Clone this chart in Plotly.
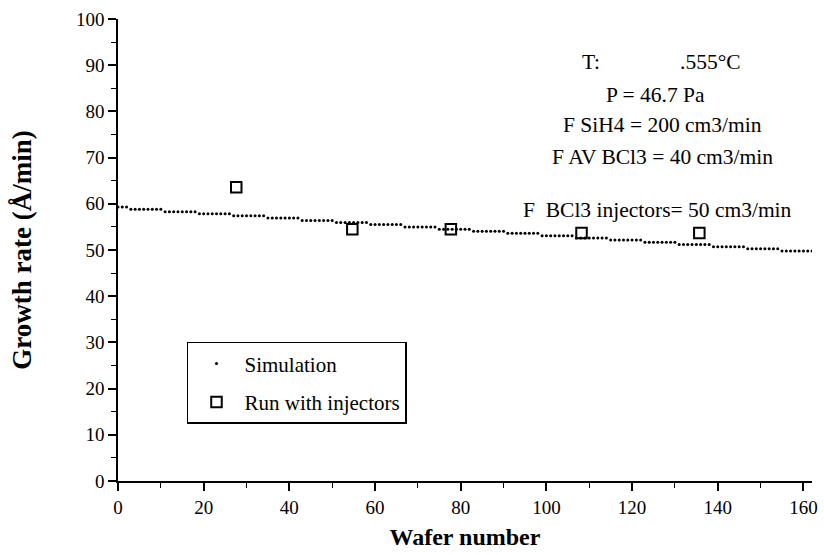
import plotly.graph_objects as go

# Simulation: growth rate per wafer
sim_wafer = list(range(163))
sim_rate = [
    59.3, 59.3, 59.3,
    58.8, 58.8, 58.8, 58.8, 58.8, 58.8, 58.8, 58.8,
    58.3, 58.3, 58.3, 58.3, 58.3, 58.3, 58.3, 58.3,
    57.85, 57.85, 57.85, 57.85, 57.85, 57.85, 57.85, 57.85,
    57.4, 57.4, 57.4, 57.4, 57.4, 57.4, 57.4, 57.4,
    56.9, 56.9, 56.9, 56.9, 56.9, 56.9, 56.9, 56.9,
    56.4, 56.4, 56.4, 56.4, 56.4, 56.4, 56.4, 56.4,
    55.95, 55.95, 55.95, 55.95, 55.95, 55.95, 55.95, 55.95,
    55.5, 55.5, 55.5, 55.5, 55.5, 55.5, 55.5, 55.5,
    55.0, 55.0, 55.0, 55.0, 55.0, 55.0, 55.0, 55.0,
    54.5, 54.5, 54.5, 54.5, 54.5, 54.5, 54.5, 54.5,
    54.05, 54.05, 54.05, 54.05, 54.05, 54.05, 54.05, 54.05,
    53.6, 53.6, 53.6, 53.6, 53.6, 53.6, 53.6, 53.6,
    53.1, 53.1, 53.1, 53.1, 53.1, 53.1, 53.1, 53.1,
    52.6, 52.6, 52.6, 52.6, 52.6, 52.6, 52.6, 52.6,
    52.15, 52.15, 52.15, 52.15, 52.15, 52.15, 52.15, 52.15,
    51.7, 51.7, 51.7, 51.7, 51.7, 51.7, 51.7, 51.7,
    51.2, 51.2, 51.2, 51.2, 51.2, 51.2, 51.2, 51.2,
    50.7, 50.7, 50.7, 50.7, 50.7, 50.7, 50.7, 50.7,
    50.25, 50.25, 50.25, 50.25, 50.25, 50.25, 50.25, 50.25,
    49.8, 49.8, 49.8, 49.8, 49.8, 49.8, 49.8, 49.8,
]

# Measured: run with injectors
run_wafer = [27.6, 54.7, 77.7, 108.2, 135.7]
run_rate = [63.6, 54.5, 54.5, 53.7, 53.7]

x_ticks = [0, 20, 40, 60, 80, 100, 120, 140, 160]
y_ticks = [0, 10, 20, 30, 40, 50, 60, 70, 80, 90, 100]

conditions = [
    ("P = 46.7 Pa", 0.775, 0.835),
    ("F SiH4 = 200 cm3/min", 0.785, 0.771),
    ("F AV BCl3 = 40 cm3/min", 0.785, 0.701),
    ("F\u00a0 BCl3 injectors= 50 cm3/min", 0.777, 0.587),
]

FONT = "Liberation Serif, Times New Roman, serif"

fig = go.Figure()
fig.add_trace(go.Scatter(
    x=sim_wafer, y=sim_rate, mode="markers", name="Simulation",
    legendgroup="a",
    marker=dict(symbol="circle", size=3, color="black"),
))
fig.add_trace(go.Scatter(
    x=run_wafer, y=run_rate, mode="markers", name="Run with injectors",
    legendgroup="b",
    marker=dict(symbol="square-open", size=10.5, color="black",
                line=dict(width=2, color="black")),
))

annotations = [
    dict(text="T:", x=0.682, y=0.907),
    dict(text=".555°C", x=0.854, y=0.907),
] + [dict(text=t, x=x, y=y) for t, x, y in conditions]
for a in annotations:
    a.update(xref="paper", yref="paper", showarrow=False,
             xanchor="center", yanchor="middle",
             font=dict(family=FONT, size=21.5, color="black"))

axis_common = dict(
    showline=True, linecolor="black", linewidth=1.6,
    ticks="outside", tickcolor="black", tickwidth=1.6, ticklen=8,
    showgrid=False, zeroline=False, mirror=False, automargin=False,
    tickfont=dict(family=FONT, size=19, color="black"),
)

fig.update_layout(
    width=824, height=555,
    margin=dict(l=118, r=12, t=19, b=74),
    paper_bgcolor="white", plot_bgcolor="white",
    font=dict(family=FONT, color="black"),
    xaxis=dict(
        range=[0, 162], tickvals=x_ticks,
        minor=dict(dtick=10, ticks="outside", ticklen=5, tickwidth=1.4, tickcolor="black"),
        title=dict(text="<b>Wafer number</b>", font=dict(family=FONT, size=24, color="black"), standoff=12),
        **axis_common,
    ),
    yaxis=dict(
        range=[0, 100], tickvals=y_ticks,
        minor=dict(dtick=5, ticks="outside", ticklen=5, tickwidth=1.4, tickcolor="black"),
        title=dict(text="<b>Growth rate (Å/min)</b>", font=dict(family=FONT, size=27, color="black"), standoff=36),
        **axis_common,
    ),
    showlegend=True,
    legend=dict(
        x=0.0994, y=0.301, xanchor="left", yanchor="top",
        bordercolor="black", borderwidth=1.5, bgcolor="white",
        font=dict(family=FONT, size=21, color="black"),
        itemwidth=46, tracegroupgap=8,
    ),
    annotations=annotations,
)

fig.write_html(
    "out.html",
    config={"displayModeBar": False},
    post_script="document.body.style.margin='0';document.body.style.overflow='hidden';",
)
